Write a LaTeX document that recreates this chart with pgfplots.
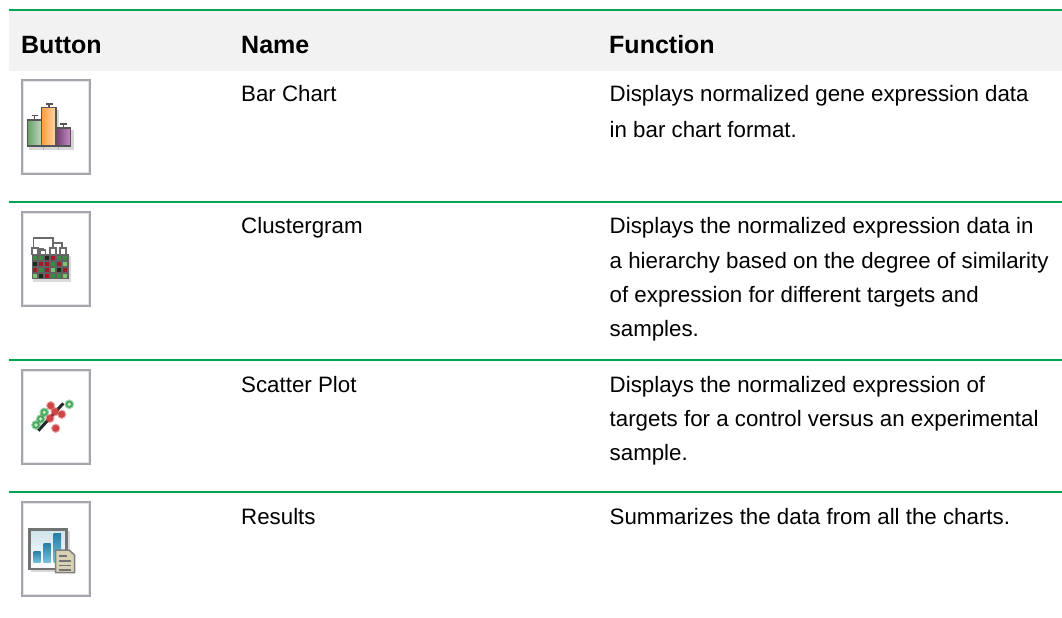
\documentclass[border=0pt]{standalone}
\usepackage{pgfplots}
\pgfplotsset{compat=1.18}
\usepackage{fontspec}
\setmainfont{Liberation Sans}
\definecolor{rule}{HTML}{00A651}
\definecolor{head}{HTML}{F2F2F2}
\definecolor{frameg}{HTML}{A4A4AC}
\definecolor{frameh}{HTML}{E4E4EA}
\definecolor{outl}{HTML}{555555}
\definecolor{cg}{HTML}{3E8A40}
\definecolor{cl}{HTML}{7CC472}
\definecolor{cr}{HTML}{A81828}
\definecolor{cd}{HTML}{1E2A20}
\definecolor{bart}{HTML}{2A7FA6}
\definecolor{barb}{HTML}{74C2DC}
\definecolor{docc}{HTML}{D8D2B4}
\definecolor{dotr}{HTML}{CC4444}
\definecolor{dotg}{HTML}{45A85A}
\definecolor{dotl}{HTML}{C8EBCB}
\newcommand{\rect}[5]{\addplot[#5] coordinates {(#1,#2)(#3,#2)(#3,#4)(#1,#4)} --cycle;}
\newcommand{\hl}[2]{\addplot[draw=rule,line width=2bp] coordinates {(#1,#2)(1062,#2)};}
\newcommand{\iconbox}[2]{%
  \rect{22}{#1}{89.8}{#2}{draw=frameg,line width=2bp,fill=white}%
  \rect{23.5}{#1+1.5}{88.3}{#2-1.5}{draw=frameh,line width=1bp}%
}
\newcommand{\txt}[3]{\node[anchor=base west,inner sep=0pt,font=\fontsize{22.3bp}{26bp}\selectfont] at (axis cs:#1,#2) {#3};}
\newcommand{\btxt}[3]{\node[anchor=base west,inner sep=0pt,font=\fontsize{25bp}{28bp}\selectfont\bfseries] at (axis cs:#1,#2) {#3};}
\newcommand{\cell}[3]{\rect{#1}{#2}{\the\numexpr#1+4\relax}{\the\numexpr#2+4\relax}{draw=none,fill=#3}}
\begin{document}
\begin{tikzpicture}
\begin{axis}[
  scale only axis, width=1062bp, height=617bp,
  xmin=0, xmax=1062, ymin=0, ymax=617, y dir=reverse,
  axis lines=none, clip=true, ticks=none,
  every axis plot/.append style={forget plot, mark=none},
]
% page
\rect{0}{0}{1062}{617}{draw=none,fill=white}
% header
\rect{9}{10}{1062}{71}{draw=none,fill=head}
\hl{9}{10}\hl{9}{202}\hl{9}{360}\hl{9}{491.5}
% text
\btxt{21}{53.5}{Button}\btxt{241}{53.5}{Name}\btxt{609}{53.5}{Function}
\txt{241}{101.3}{Bar Chart}
\txt{609.5}{101.3}{Displays normalized gene expression data}
\txt{609.5}{137.8}{in bar chart format.}
\txt{241}{233.3}{Clustergram}
\txt{609.5}{233.3}{Displays the normalized expression data in}
\txt{609.5}{268.5}{a hierarchy based on the degree of similarity}
\txt{609.5}{302.3}{of expression for different targets and}
\txt{609.5}{336.3}{samples.}
\txt{241}{392.3}{Scatter Plot}
\txt{609.5}{392.3}{Displays the normalized expression of}
\txt{609.5}{426.3}{targets for a control versus an experimental}
\txt{609.5}{460.3}{sample.}
\txt{241}{524.3}{Results}
\txt{609.5}{524.3}{Summarizes the data from all the charts.}
% icon frames
\iconbox{80}{173.7}\iconbox{212}{305.7}\iconbox{370}{464}\iconbox{502}{595.7}
% icon 1: bars with soft shadow
\rect{29}{122}{44}{149.5}{draw=none,fill=black,fill opacity=.16}
\rect{43}{110}{58.5}{149.5}{draw=none,fill=black,fill opacity=.16}
\rect{58}{130}{73.5}{149.5}{draw=none,fill=black,fill opacity=.16}
\rect{27.5}{120}{41.5}{146}{draw=outl,line width=1.8bp,left color=green!40!black!60,right color=green!35!black!25}
\rect{41.5}{107.5}{56}{146}{draw=outl,line width=1.8bp,left color=orange!75!white,right color=orange!35!white}
\rect{56.5}{128}{70.5}{146}{draw=outl,line width=1.8bp,left color=violet!55!black!75,right color=violet!45!white}
\addplot[draw=outl,line width=1.6bp] coordinates {(34.5,120)(34.5,115.5)};
\addplot[draw=outl,line width=1.6bp] coordinates {(31.5,115.5)(37.5,115.5)};
\addplot[draw=outl,line width=1.6bp] coordinates {(49,107.5)(49,104)};
\addplot[draw=outl,line width=1.6bp] coordinates {(45.5,104)(52.5,104)};
\addplot[draw=outl,line width=1.6bp] coordinates {(63.5,128)(63.5,124)};
\addplot[draw=outl,line width=1.6bp] coordinates {(60,124)(67,124)};
% icon 2: clustergram
\rect{33}{256}{71}{282}{draw=none,fill=black,fill opacity=.14}
\rect{31.5}{254}{68.5}{279}{draw=none,fill=black!62}
\addplot[draw=black!58,line width=1.9bp] coordinates {(33.5,250)(33.5,238)(53,238)(53,250)};
\addplot[draw=black!58,line width=1.9bp] coordinates {(53,243)(62,243)(62,250)};
\addplot[draw=black!58,line width=1.9bp] coordinates {(33.5,249)(43,249)(43,252)};
\rect{32}{248}{38}{254.5}{draw=black!58,fill=white,line width=1.2bp}
\rect{40}{250}{45.5}{254.5}{draw=black!58,fill=white,line width=1.2bp}
\rect{50}{248}{56}{254.5}{draw=black!58,fill=white,line width=1.2bp}
\rect{60}{248}{66}{254.5}{draw=black!58,fill=white,line width=1.2bp}
\cell{33}{256}{cg}\cell{39}{256}{cg}\cell{45}{256}{cd}\cell{51}{256}{cr}\cell{57}{256}{cg}\cell{63}{256}{cg}
\cell{33}{262}{cd}\cell{39}{262}{cr}\cell{45}{262}{cr}\cell{51}{262}{cg}\cell{57}{262}{cr}\cell{63}{262}{cl}
\cell{33}{268}{cr}\cell{39}{268}{cg}\cell{45}{268}{cr}\cell{51}{268}{cl}\cell{57}{268}{cd}\cell{63}{268}{cr}
\cell{33}{274}{cl}\cell{39}{274}{cd}\cell{45}{274}{cr}\cell{51}{274}{cg}\cell{57}{274}{cg}\cell{63}{274}{cl}
% icon 3: scatter
\addplot[draw=black!85,line width=3bp] coordinates {(38.3,430.7)(63.3,403.3)};
\addplot[only marks,mark=*,mark size=4.4bp,mark options={draw=dotr,fill=dotr,opacity=.4}] coordinates {(50.7,405.7)(50,418.3)(61.7,414.3)(55.7,428.3)(55,411.7)};
\addplot[only marks,mark=*,mark size=3.2bp,mark options={draw=dotr,fill=dotr}] coordinates {(50.7,405.7)(50,418.3)(61.7,414.3)(55.7,428.3)(55,411.7)};
\addplot[only marks,mark=*,mark size=4.6bp,mark options={draw=dotg,fill=dotg,opacity=.45}] coordinates {(36,425)(40.7,419)(44.3,412.3)(69.3,404.3)};
\addplot[only marks,mark=*,mark size=3.4bp,mark options={draw=dotg,fill=dotg}] coordinates {(36,425)(40.7,419)(44.3,412.3)(69.3,404.3)};
\addplot[only marks,mark=*,mark size=1.5bp,mark options={draw=dotl,fill=dotl}] coordinates {(36,425)(40.7,419)(44.3,412.3)(69.3,404.3)};
% icon 4: results
\rect{31}{531}{69.5}{572}{draw=none,fill=black,fill opacity=.15}
\rect{29.5}{529.5}{66.5}{569}{draw=black!55,line width=2.4bp,top color=bart!22,bottom color=white}
\rect{33.5}{551}{40.5}{562.5}{draw=none,top color=bart,bottom color=barb}
\rect{43.5}{543.5}{50.5}{562.5}{draw=none,top color=bart,bottom color=barb}
\rect{53.5}{533.5}{61}{562.5}{draw=none,top color=bart,bottom color=barb}
\addplot[draw=black!50,fill=docc,line width=1.5bp] coordinates {(55.5,550)(69,550)(74.5,555)(74.5,572.5)(55.5,572.5)} --cycle;
\addplot[draw=black!55,line width=1.2bp] coordinates {(59,556)(67,556)};
\addplot[draw=black!55,line width=1.2bp] coordinates {(59,561)(71,561)};
\addplot[draw=black!55,line width=1.2bp] coordinates {(59,565.5)(71,565.5)};
\addplot[draw=black!55,line width=1.2bp] coordinates {(59,570)(71,570)};
\end{axis}
\end{tikzpicture}
\end{document}
